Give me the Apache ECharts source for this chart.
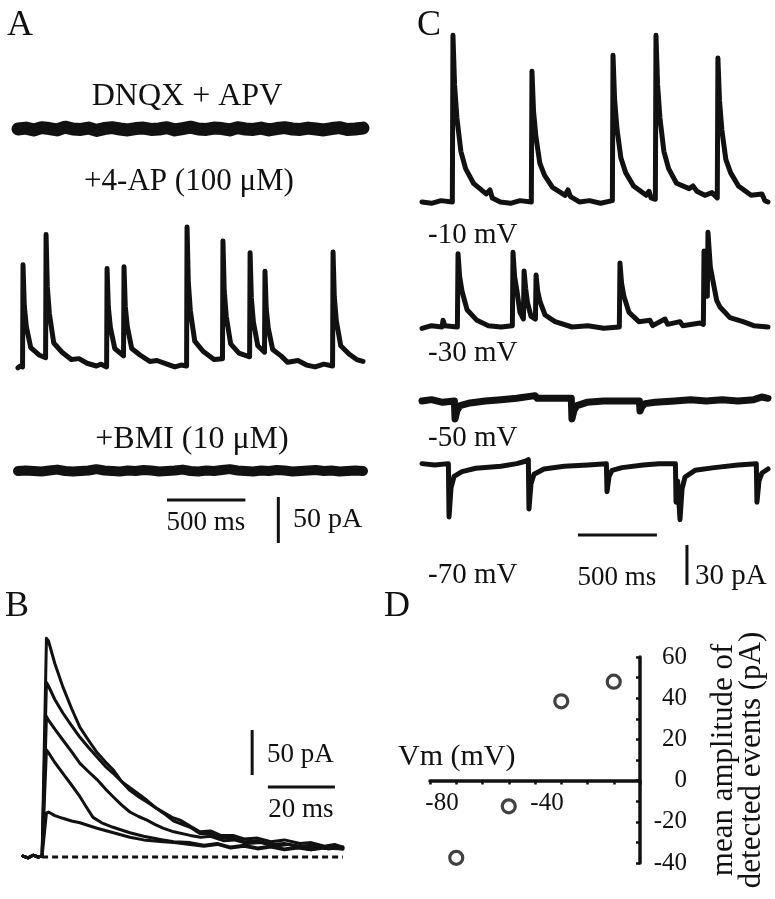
<!DOCTYPE html>
<html><head><meta charset="utf-8">
<script src="https://cdn.jsdelivr.net/npm/echarts/dist/echarts.min.js"></script>
<style>html,body{margin:0;padding:0;background:#fff}#c{width:775px;height:899px}</style>
</head><body><div id="c"></div>
<script>
// ---------- Panel A : time (ms), current (pA) ----------
const traceA_dnqx = [[0,0],[50,1],[100,-1],[150,1.5],[200,0.5],[250,-1],[300,2],[350,0],[400,-0.5],[450,1],[500,-1.5],[550,0.5],[600,1.5],[650,0],[700,-1],[750,0.5],[800,1],[850,-0.5],[900,0],[950,1.5],[1000,-1],[1050,0.5],[1100,2],[1150,0],[1200,-0.5],[1250,1],[1300,0.5],[1350,-1],[1400,1.5],[1450,0],[1500,-0.5],[1550,1],[1600,-1],[1650,0.5],[1700,1.5],[1750,0],[1800,-0.5],[1850,1],[1900,0],[1950,-1],[2000,0.5],[2050,1.5],[2100,-0.5],[2150,0],[2200,1]];
const traceA_4ap = [[0,-3],[15,-1],[29,-2],
 [32,109],[40,65],[53,42],[81,19],[134,11],[176,8],
 [179,142],[187,85],[200,56],[228,24],[281,14],[340,6],[389,7],[440,2],[500,-1],[530,1],[565,-2],
 [568,105],[576,63],[589,41],[617,18],[673,10],
 [676,107],[684,64],[697,42],[725,18],[778,11],[840,4],[886,5],[950,1],[1000,-2],[1040,0],[1075,-1],
 [1078,150],[1086,90],[1099,59],[1127,26],[1180,15],[1250,6],[1304,7],
 [1307,135],[1315,81],[1328,53],[1356,23],[1409,13],[1477,9],
 [1480,122],[1488,73],[1501,47],[1529,21],[1572,14],
 [1575,102],[1583,61],[1596,40],[1624,17],[1677,10],[1720,3],[1785,5],[1840,0],[1895,-2],[1950,1],[2006,-1],
 [2009,123],[2017,74],[2030,48],[2058,21],[2111,12],[2160,6],[2200,4]];
const traceA_bmi = [[0,0],[50,0.5],[100,0],[150,-0.5],[200,0.5],[250,1.5],[300,0],[350,-0.5],[400,0],[450,0.5],[500,2],[550,0.5],[600,0],[650,-0.5],[700,0.5],[750,0],[800,1],[850,0.5],[900,-0.5],[950,0],[1000,0.5],[1050,1.5],[1100,0],[1150,-0.5],[1200,0.5],[1250,0],[1300,1],[1350,2],[1400,0.5],[1450,0],[1500,-0.5],[1550,0.5],[1600,0],[1650,1],[1700,0.5],[1750,-0.5],[1800,0],[1850,0.5],[1900,1],[1950,0],[2000,0.5],[2050,-0.5],[2100,0],[2150,0.5],[2200,0]];
const labelsA = ['DNQX + APV', '+4-AP (100 \u03bcM)', '+BMI (10 \u03bcM)'];
const scaleA = {ms: 500, pA: 50};

// ---------- Panel B : time (ms), current (pA) ----------
const preB = [[0,1],[1.5,-1],[3,2],[4.5,0],[5.7,1]];
const traceB1 = [[7.0,243],[7.6,240],[9.5,215],[11.9,189],[14.5,165],[17,144],[19.5,130],[22.1,116],[24.5,106],[26.9,97],[29.4,84],[31.9,74],[34.5,67],[37,61],[39.5,55],[41.8,50],[44.5,44],[46.9,41],[50,34],[52.8,28],[56,29],[59,24],[62.7,24],[66,20],[70,21],[74,17],[78,19],[82.7,15],[86,16],[90,12],[93,14],[95.5,11]];
const traceB2 = [[7.0,194],[7.6,190],[9.5,175],[11.9,160],[14.5,146],[17,133],[19.5,122],[22.1,111],[24.5,101],[26.9,93],[29.4,84],[31.9,77],[34.5,70],[37,63],[39.5,55],[41.8,49],[45,40],[49.9,33],[52.8,26],[56,26],[59,21],[62.7,21],[66,17],[70,18],[74,14],[78,15],[82.7,12],[86,13],[90,10],[93,12],[95.5,10]];
const traceB3 = [[7.0,156],[7.6,152],[9.5,142],[11.9,130],[14.5,117],[17,104],[19.5,95],[22.1,86],[24.5,76],[26.9,67],[29.4,58],[31.9,50],[34.5,45],[37,41],[39.5,36],[41.8,32],[45,28],[49.9,24],[53,22],[56,23],[60,18],[63,19],[67,15],[71,16],[75,12],[79,14],[83,11],[87,12],[91,9],[95.5,11]];
const traceB4 = [[7.0,119],[7.6,116],[9.5,105],[11.9,93],[14.5,80],[17,67],[19,55],[20.9,44],[23.5,38],[26.9,33],[29.4,30],[31.9,27],[36,23],[41.8,19],[45,17],[49.9,16],[54,13],[58,15],[62,11],[66,13],[70,10],[74,12],[78,9],[82,11],[86,8],[90,11],[95.5,9]];
const traceB5 = [[7.0,49],[7.6,50],[9.5,46],[11.9,43],[14.5,40],[17,38],[19.5,35],[22.1,32],[27,27],[31.9,22],[36,19],[41.8,17],[45,16],[49.9,14],[54,12],[58,14],[62,10],[66,12],[70,9],[74,11],[78,8],[82,10],[86,8],[90,10],[95.5,9]];
const baselineB = [[5.7,0],[95.5,0]];
const scaleB = {ms: 20, pA: 50};

// ---------- Panel C : time (ms), current (pA) ----------
const traceC_m10 = [[0,0],[60,-1],[120,1],[192,0],
 [196,125],[206,88],[221,63],[246,38],[276,25],[326,14],[406,6],[430,9],[445,3],[496,0],[560,-1],[620,1],[692,0],
 [696,98],[706,68],[721,49],[746,29],[776,20],[826,11],[906,5],[924,9],[940,4],[996,0],[1060,1],[1130,-1],[1205,1],
 [1209,110],[1219,77],[1234,55],[1259,33],[1289,22],[1339,12],[1419,5],[1437,8],[1450,3],[1477,2],
 [1481,125],[1491,88],[1506,63],[1531,38],[1561,25],[1611,14],[1691,10],[1715,12],[1740,8],[1790,5],[1835,7],[1869,3],
 [1873,108],[1883,76],[1898,54],[1923,32],[1953,22],[2003,12],[2083,5],[2152,6],[2170,1],[2190,0]];
const traceC_m30 = [[0,-1],[60,1],[127,0],[133,5],[145,1],[224,0],
 [228,55],[238,38],[253,27],[285,13],[348,5],[420,1],[500,0],[572,1],
 [576,56],[586,38],[601,27],[620,11],[642,6],
 [646,42],[656,29],[668,18],[690,8],[718,6],
 [722,39],[732,27],[747,19],[779,9],[842,4],[950,0],[1050,1],[1150,-1],[1249,0],
 [1253,48],[1263,33],[1278,23],[1310,11],[1373,4],[1443,5],[1460,1],[1538,6],[1555,2],[1633,4],[1650,1],[1760,3],[1781,2],
 [1785,57],[1795,36],[1806,23],
 [1810,71],[1825,45],[1844,33],[1865,20],[1886,15],[1949,7],[2032,4],[2100,1],[2190,0]];
const traceC_m50 = [[0,0],[60,1],[130,-1],[205,0],
 [209,-13.5],[222,-7],[241,-3.5],[304,-1.5],[400,0],[500,1],[600,2],[715,4],[730,2],[850,2],[945,2],
 [949,-13.5],[962,-7],[981,-3.5],[1044,-1],[1150,0],[1250,0],[1376,0],
 [1380,-7.5],[1393,-4],[1412,-2],[1475,-1],[1600,0],[1700,1],[1800,0],[1900,1],[2000,0],[2100,1],[2150,3],[2190,2]];
const traceC_m70 = [[0,1],[80,0],[167,1],
 [171,-39],[184,-17],[203,-8.5],[253,-5],[340,-2.5],[500,-1],[600,1],[660,3],[673,4],
 [677,-33],[690,-14],[709,-7],[772,-3],[900,-1],[1050,0],[1167,1],
 [1171,-20],[1184,-8.5],[1203,-4],[1266,-2],[1400,0],[1500,1],[1604,1],
 [1608,-28],[1618,-12],[1629,-11],
 [1633,-41],[1646,-18],[1665,-9],[1728,-4],[1850,-2],[2000,0],[2116,1],
 [2120,-28],[2133,-12],[2152,-6],[2190,-3]];
const labelsC = ['-10 mV', '-30 mV', '-50 mV', '-70 mV'];
const scaleC = {ms: 500, pA: 30};

// ---------- Panel D ----------
const vmD = [-70, -50, -30, -10];
const ampD = [-37.5, -12.5, 38.5, 48];
const vmTicksD = [-80, -40];
const ampTicksD = [60, 40, 20, 0, -20, -40];

// ================= layout / rendering =================
const ink = '#111';
const serif = 'Liberation Serif';
const chart = echarts.init(document.getElementById('c'), null, {renderer:'canvas'});

function trace(g, data, offset, width){
  return {type:'line', xAxisIndex:g, yAxisIndex:g, data:data.map(p=>[p[0], p[1]+offset]),
    showSymbol:false, symbol:'none', clip:false, silent:true, animation:false,
    lineStyle:{color:ink, width:width, join:'round', cap:'round'}};
}
function seg(g, p0, p1, width, dash){
  return {type:'line', xAxisIndex:g, yAxisIndex:g, data:[p0,p1], showSymbol:false, symbol:'none', clip:false,
    silent:true, animation:false, lineStyle:{color:ink, width:width, type: dash || 'solid', cap:'butt'}};
}
const hidden = (g, min, max) => ({gridIndex:g, type:'value', min, max, show:false});

// grid 0: A, 1: B, 2: C, 3: D (x-axis frame, bottom at amplitude 0), 4: D (full y range)
const grids = [
  {left:18, top:100, width:345, height:450},
  {left:23, top:630, width:320, height:240},
  {left:422, top:20, width:346, height:610},
  {left:430, top:657, width:210, height:123.6},
  {left:430, top:657, width:210, height:206}
];
const offA = [457.6, 201, 85.9];
const offC = [321.1, 227.3, 171.8, 123.8];

const series = [];
series.push(trace(0, traceA_dnqx, offA[0], 13));
series.push(trace(0, traceA_4ap, offA[1], 5));
series.push(trace(0, traceA_bmi, offA[2], 10));
series.push(seg(0, [950, 54.3], [950+scaleA.ms, 54.3], 3));
series.push(seg(0, [1660, 7.6], [1660, 7.6+scaleA.pA], 3));

series.push(seg(1, baselineB[0], baselineB[1], 3, [6,4]));
[traceB1, traceB2, traceB3, traceB4, traceB5].forEach(t => series.push(trace(1, preB.concat(t), 0, 3)));
series.push(seg(1, [68.4, 91], [68.4, 91+scaleB.pA], 3));
series.push(seg(1, [73.1, 77.8], [73.1+scaleB.ms, 77.8], 3));

series.push(trace(2, traceC_m10, offC[0], 5));
series.push(trace(2, traceC_m30, offC[1], 5));
series.push(trace(2, traceC_m50, offC[2], 7));
series.push(trace(2, traceC_m70, offC[3], 5));
series.push(seg(2, [987, 71.3], [987+scaleC.ms, 71.3], 3));
series.push(seg(2, [1677, 33.8], [1677, 33.8+scaleC.pA], 3));

series.push({type:'scatter', xAxisIndex:4, yAxisIndex:4, data: vmD.map((v,i)=>[v, ampD[i]]),
  symbol:'circle', symbolSize:13, animation:false, silent:true, z:5,
  itemStyle:{color:'#fff', borderColor:ink, borderWidth:3.2}});

function txt(text, x, y, size, align){
  return {type:'text', silent:true, style:{text, x, y, fill:ink, font: size+'px "'+serif+'"',
    textAlign: align||'center', textVerticalAlign:'middle'}};
}
const graphic = [
  txt('A', 20, 26, 36), txt('C', 429, 26, 36), txt('B', 17, 607, 36), txt('D', 397, 607, 36),
  txt(labelsA[0], 187, 97, 32), txt(labelsA[1], 189, 182, 31), txt(labelsA[2], 192, 440, 32),
  txt('500 ms', 206, 523, 27), txt('50 pA', 293, 520, 28, 'left'),
  txt('50 pA', 267, 755, 27, 'left'), txt('20 ms', 301, 810, 27),
  txt(labelsC[0], 428, 235, 29, 'left'), txt(labelsC[1], 428, 353, 29, 'left'),
  txt(labelsC[2], 428, 438, 29, 'left'), txt(labelsC[3], 428, 575, 29, 'left'),
  txt('500 ms', 617, 578, 27), txt('30 pA', 695, 576, 29, 'left')
];

const axisFont = {color:ink, fontFamily:serif, fontSize:25};
const option = {
  backgroundColor:'#fff',
  animation:false,
  grid: grids,
  xAxis: [
    hidden(0, 0, 2200), hidden(1, 0, 95.52), hidden(2, 0, 2190),
    {gridIndex:3, type:'value', min:-80, max:0, interval:10, position:'bottom',
      axisLine:{show:true, onZero:false, lineStyle:{color:ink, width:3.5}},
      axisTick:{show:true, inside:false, length:4, lineStyle:{color:ink, width:2.5}},
      splitLine:{show:false},
      axisLabel:Object.assign({show:true, margin:10, padding:[0,0,0,24], showMinLabel:true, showMaxLabel:true,
        formatter: v => vmTicksD.includes(v) ? String(v) : ''}, axisFont),
      name:'Vm (mV)', nameLocation:'start', nameGap:32,
      nameTextStyle:{color:ink, fontFamily:serif, fontSize:30, align:'left', verticalAlign:'bottom', padding:[0,0,8,0]}},
    hidden(4, -80, 0)
  ],
  yAxis: [
    hidden(0, 0, 489.13), hidden(1, -14.44, 252.2), hidden(2, 0, 457.6),
    hidden(3, 0, 60),
    {gridIndex:4, type:'value', min:-40, max:60, interval:10, position:'right',
      axisLine:{show:true, onZero:false, lineStyle:{color:ink, width:3.5}},
      axisTick:{show:true, inside:true, length:4, lineStyle:{color:ink, width:2.5}},
      splitLine:{show:false},
      axisLabel:Object.assign({show:true, margin:47, align:'right',
        formatter: v => ampTicksD.includes(v) ? String(v) : ''}, axisFont),
      name:'mean amplitude of\ndetected events (pA)', nameLocation:'middle', nameRotate:90, nameGap:70,
      nameTextStyle:{color:ink, fontFamily:serif, fontSize:31, lineHeight:28}}
  ],
  series,
  graphic
};
chart.setOption(option);
</script></body></html>
